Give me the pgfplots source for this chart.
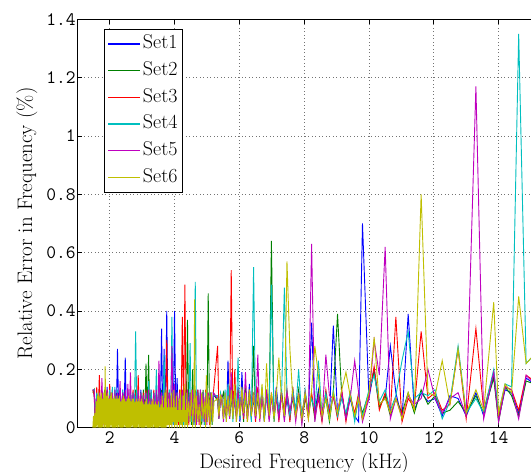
\documentclass[border=0pt]{standalone}
\usepackage{fontspec}
\usepackage{pgfplots}
\usepackage{pgfplotstable}
\pgfplotsset{compat=1.18}
\definecolor{mb}{rgb}{0,0,1}
\definecolor{mg}{rgb}{0,0.5,0}
\definecolor{mr}{rgb}{1,0,0}
\definecolor{mc}{rgb}{0,0.75,0.75}
\definecolor{mm}{rgb}{0.75,0,0.75}
\definecolor{my}{rgb}{0.75,0.75,0}
\pgfplotstableread{
x s1 s2 s3 s4 s5
1.48 .13 .12 .13 .13 .13
1.52 .12 .13 .11 .13 .13
1.56 .02 .03 .01 .03 .02
1.60 .11 .12 .14 .12 .10
1.64 .03 .01 .02 .02 .04
1.68 .13 .12 .18 .11 .12
1.72 .01 .02 .04 .01 .02
1.76 .12 .11 .12 .13 .17
1.80 .04 .02 .03 .03 .01
1.84 .11 .13 .10 .12 .12
1.88 .02 .03 .01 .03 .02
1.92 .14 .12 .13 .10 .13
1.96 .03 .01 .02 .02 .04
2.00 .12 .11 .15 .13 .11
2.04 .01 .02 .04 .01 .02
2.08 .10 .13 .12 .14 .12
2.12 .04 .02 .03 .03 .01
2.16 .13 .12 .11 .14 .13
2.20 .02 .03 .01 .03 .02
2.24 .27 .11 .12 .13 .12
2.28 .03 .01 .02 .02 .04
2.32 .12 .13 .13 .12 .16
2.36 .01 .02 .04 .01 .02
2.40 .13 .12 .11 .13 .12
2.44 .04 .02 .03 .03 .01
2.48 .24 .11 .12 .11 .13
2.52 .02 .03 .01 .03 .02
2.56 .11 .13 .12 .12 .15
2.60 .03 .01 .02 .02 .04
2.64 .12 .12 .11 .13 .19
2.68 .01 .02 .04 .01 .02
2.72 .11 .11 .13 .12 .12
2.76 .04 .02 .03 .03 .01
2.80 .12 .13 .12 .33 .11
2.84 .02 .03 .01 .03 .02
2.88 .11 .12 .18 .12 .13
2.92 .03 .01 .02 .02 .04
2.96 .13 .12 .11 .12 .12
3.00 .01 .02 .04 .01 .02
3.04 .12 .13 .12 .11 .11
3.08 .04 .02 .03 .03 .01
3.12 .11 .22 .13 .12 .12
3.16 .02 .03 .01 .03 .02
3.20 .12 .25 .11 .16 .13
3.24 .03 .01 .02 .02 .04
3.28 .13 .12 .12 .13 .10
3.32 .01 .02 .04 .01 .02
3.36 .11 .12 .13 .12 .12
3.40 .04 .02 .03 .03 .01
3.44 .12 .11 .12 .20 .13
3.48 .02 .03 .01 .03 .02
3.52 .13 .12 .12 .12 .23
3.56 .03 .01 .02 .02 .04
3.60 .34 .13 .11 .12 .12
3.64 .01 .02 .04 .01 .02
3.68 .27 .12 .13 .25 .12
3.72 .04 .02 .03 .03 .01
3.76 .40 .11 .30 .12 .13
3.80 .02 .03 .01 .03 .02
3.84 .12 .13 .12 .13 .12
3.88 .03 .01 .02 .02 .04
3.92 .13 .12 .11 .38 .28
3.96 .01 .02 .04 .01 .02
4.00 .40 .12 .12 .13 .15
4.04 .04 .02 .03 .03 .01
4.08 .17 .11 .12 .12 .12
4.12 .02 .03 .01 .03 .02
4.16 .12 .13 .13 .11 .12
4.20 .03 .01 .02 .02 .04
4.24 .11 .12 .38 .12 .13
4.28 .01 .02 .04 .01 .02
4.32 .12 .13 .49 .12 .12
4.36 .04 .02 .03 .03 .01
4.40 .13 .37 .12 .11 .13
4.44 .02 .03 .01 .03 .02
4.48 .12 .12 .11 .29 .12
4.52 .03 .01 .02 .02 .04
4.56 .11 .20 .12 .12 .13
4.60 .01 .02 .04 .01 .02
4.64 .12 .13 .12 .50 .12
4.68 .04 .02 .03 .03 .01
4.72 .13 .12 .13 .12 .12
4.76 .02 .03 .01 .03 .02
4.80 .11 .12 .12 .13 .13
4.84 .03 .01 .02 .02 .04
4.88 .12 .13 .11 .12 .12
4.92 .01 .02 .04 .01 .02
4.96 .12 .12 .13 .12 .11
5.00 .04 .02 .03 .03 .01
5.04 .11 .46 .12 .11 .12
5.08 .02 .03 .01 .03 .02
5.12 .12 .12 .11 .12 .12
5.16 .03 .01 .02 .02 .04
5.20 .11 .12 .12 .11 .12
5.33 .10 .09 .28 .11 .10
5.37 .04 .03 .05 .06 .03
5.42 .11 .10 .10 .12 .10
5.46 .09 .10 .09 .10 .11
5.51 .03 .12 .04 .05 .02
5.56 .12 .05 .11 .13 .10
5.60 .02 .04 .03 .03 .05
5.65 .23 .13 .12 .15 .10
5.70 .05 .03 .04 .06 .03
5.75 .12 .10 .54 .14 .19
5.80 .04 .06 .03 .02 .05
5.86 .10 .12 .20 .11 .09
5.91 .03 .04 .02 .06 .04
5.96 .14 .11 .13 .24 .12
6.02 .02 .05 .04 .03 .06
6.08 .19 .12 .10 .13 .11
6.13 .06 .02 .03 .05 .04
6.19 .12 .14 .11 .10 .19
6.25 .03 .05 .02 .04 .03
6.31 .15 .11 .13 .12 .10
6.37 .04 .03 .06 .02 .05
6.44 .10 .28 .12 .55 .12
6.50 .03 .04 .02 .05 .03
6.57 .11 .10 .14 .12 .25
6.63 .05 .06 .03 .04 .02
6.70 .13 .12 .10 .14 .11
6.77 .02 .03 .05 .03 .04
6.84 .12 .13 .11 .10 .13
6.92 .04 .05 .03 .06 .02
6.99 .11 .64 .12 .49 .10
7.07 .03 .02 .04 .03 .05
7.14 .14 .11 .13 .12 .10
7.22 .05 .04 .02 .06 .03
7.30 .12 .13 .11 .10 .12
7.39 .04 .03 .05 .48 .02
7.47 .10 .12 .13 .11 .12
7.56 .03 .05 .02 .04 .06
7.65 .12 .10 .14 .13 .11
7.74 .05 .04 .03 .06 .02
7.83 .11 .13 .10 .20 .12
7.93 .03 .02 .05 .03 .01
8.03 .12 .10 .11 .13 .12
8.13 .04 .06 .03 .05 .04
8.23 .36 .11 .12 .10 .63
8.33 .05 .03 .04 .06 .02
8.44 .13 .12 .10 .23 .11
8.55 .03 .05 .02 .04 .03
8.67 .11 .10 .13 .12 .25
8.78 .04 .02 .05 .03 .11
8.90 .35 .12 .11 .13 .10
9.03 .05 .39 .03 .04 .06
9.16 .12 .11 .13 .10 .12
9.29 .03 .04 .02 .05 .03
9.42 .10 .12 .11 .12 .10
9.56 .04 .03 .05 .02 .23
9.68 .02 .10 .12 .11 .12
9.80 .70 .05 .03 .04 .02
10.00 .10 .12 .11 .13 .10
10.16 .20 .19 .21 .18 .30
10.32 .08 .07 .06 .09 .18
10.50 .10 .11 .12 .13 .62
10.66 .28 .04 .05 .06 .03
10.83 .12 .10 .38 .11 .10
11.02 .03 .05 .02 .23 .04
11.21 .39 .12 .10 .33 .11
11.40 .06 .05 .07 .10 .08
11.61 .12 .13 .33 .12 .10
11.82 .09 .08 .10 .11 .20
12.04 .10 .11 .12 .13 .10
12.26 .04 .05 .06 .03 .05
12.50 .11 .06 .08 .09 .10
12.75 .10 .09 .27 .28 .12
13.00 .04 .05 .03 .05 .04
13.30 .12 .11 .34 .10 1.17
13.54 .04 .05 .06 .05 .03
13.85 .18 .17 .19 .20 .19
14.00 .03 .02 .04 .05 .02
14.20 .13 .14 .14 .15 .14
14.40 .12 .11 .13 .14 .13
14.62 .05 .04 .06 1.35 .03
14.85 .17 .16 .18 .22 .18
15.10 .15 .15 .16 .25 .15
}\data
\begin{document}
\begin{tikzpicture}
\begin{axis}[name=ax, scale only axis, width=453.7pt, height=408.4pt,
  xmin=1, xmax=15, ymin=0, ymax=1.4,
  axis x line*=box, axis y line*=left,
  xtick={2,4,6,8,10,12,14}, ytick={0,0.2,0.4,0.6,0.8,1,1.2,1.4},
  grid=major, major grid style={dash pattern=on 0.9pt off 2.6pt, black!55, line width=0.6pt},
  tick align=inside, major tick length=5pt, tick style={black, line width=0.6pt},
  axis line style={black, line width=1pt},
  tick label style={font=\fontsize{19}{19}\selectfont\ttfamily},
  /pgf/number format/assume math mode=true,
  yticklabel style={xshift=2pt},
  label style={font=\fontsize{21}{25}\selectfont},
  xlabel={Desired Frequency (kHz)},
  xlabel style={at={(axis description cs:0.5,0)}, anchor=base, yshift=-40.6pt},
  ylabel={Relative Error in Frequency (\%)},
  ylabel style={at={(axis description cs:-0.0998,0.5)}, anchor=base},
  legend style={at={(axis description cs:0.0595,0.9755)}, anchor=north west,
    draw=black, line width=0.8pt, fill=white, font=\fontsize{20}{24}\selectfont,
    inner sep=3pt, row sep=3.7pt,
    nodes={inner sep=2pt, text height=14pt, text depth=5pt}},
  legend cell align=left,
  legend image code/.code={\draw[#1, line width=1.3pt] (0pt,0.3pt) -- (32pt,0.3pt);},
]
\addplot[mb, line width=0.9pt] table[x=x, y=s1]{\data};
\addlegendentry{Set1}
\addplot[mg, line width=0.9pt] table[x=x, y=s2]{\data};
\addlegendentry{Set2}
\addplot[mr, line width=0.9pt] table[x=x, y=s3]{\data};
\addlegendentry{Set3}
\addplot[mc, line width=0.9pt] table[x=x, y=s4]{\data};
\addlegendentry{Set4}
\addplot[mm, line width=0.9pt] table[x=x, y=s5]{\data};
\addlegendentry{Set5}
\addplot[my, line width=0.9pt] coordinates {
(1.48,0)(1.50,.04)(1.52,0)(1.54,.05)(1.56,0)(1.58,.09)(1.60,0)(1.62,.11)
(1.64,0)(1.66,.12)(1.68,0)(1.70,.11)(1.72,0)(1.74,.12)(1.76,0)(1.78,.10)
(1.80,0)(1.82,.12)(1.84,0)(1.86,.21)(1.88,0)(1.90,.11)(1.92,0)(1.94,.12)
(1.96,0)(1.98,.10)(2.00,0)(2.02,.11)(2.04,0)(2.06,.12)(2.08,0)(2.10,.10)
(2.12,0)(2.14,.11)(2.16,0)(2.18,.10)(2.20,0)(2.22,.11)(2.24,0)(2.26,.10)
(2.28,0)(2.30,.11)(2.32,0)(2.34,.09)(2.36,0)(2.38,.10)(2.40,0)(2.42,.11)
(2.44,0)(2.46,.10)(2.48,0)(2.50,.09)(2.52,0)(2.54,.10)(2.56,0)(2.58,.11)
(2.60,0)(2.62,.10)(2.64,0)(2.66,.09)(2.68,0)(2.70,.10)(2.72,0)(2.74,.10)
(2.76,0)(2.78,.09)(2.80,0)(2.82,.10)(2.84,0)(2.86,.09)(2.88,0)(2.90,.10)
(2.92,0)(2.94,.09)(2.96,0)(2.98,.10)(3.00,0)(3.02,.09)(3.04,0)(3.06,.08)
(3.08,0)(3.10,.09)(3.12,0)(3.14,.10)(3.16,0)(3.18,.08)(3.20,0)(3.22,.09)
(3.24,0)(3.26,.08)(3.28,0)(3.30,.09)(3.32,0)(3.34,.10)(3.36,0)(3.38,.08)
(3.40,0)(3.42,.09)(3.44,0)(3.46,.08)(3.48,0)(3.50,.09)(3.52,0)(3.54,.07)
(3.56,0)(3.58,.08)(3.60,0)(3.62,.11)(3.64,0)(3.66,.07)(3.68,0)(3.70,.12)
(3.72,0)(3.74,.13)(3.76,0)(3.78,.07)(3.80,.01)(3.82,.10)(3.84,0)(3.86,.07)
(3.88,.01)(3.90,.12)(3.92,0)(3.94,.07)(3.96,.02)(3.98,.13)(4.00,0)(4.02,.07)
(4.04,.01)(4.06,.11)(4.08,0)(4.10,.06)(4.12,.02)(4.14,.10)(4.16,0)(4.18,.13)
(4.20,.01)(4.22,.06)(4.24,0)(4.26,.11)(4.28,.02)(4.30,.15)(4.32,0)(4.34,.06)
(4.36,.01)(4.38,.12)(4.40,0)(4.44,.09)(4.48,.02)(4.52,.13)(4.56,0)
(4.60,.10)(4.62,.44)(4.64,0)(4.68,.11)(4.72,.02)(4.76,.08)(4.80,0)(4.84,.12)
(4.88,.03)(4.92,.09)(4.96,0)(4.98,.18)(5.02,.02)(5.06,.11)(5.10,0)(5.14,.12)
(5.18,.02)(5.22,.09)
(5.33,.10)(5.37,.04)(5.42,.11)(5.46,.10)(5.51,.03)(5.56,.12)(5.60,.02)(5.65,.11)
(5.70,.04)(5.75,.13)(5.80,.03)(5.86,.15)(5.91,.02)(5.96,.10)(6.02,.04)(6.08,.14)
(6.13,.05)(6.19,.12)(6.25,.02)(6.31,.13)(6.37,.04)(6.44,.11)(6.50,.04)(6.57,.12)
(6.63,.03)(6.70,.15)(6.77,.02)(6.84,.22)(6.92,.04)(6.99,.12)(7.07,.03)(7.14,.11)
(7.22,.24)(7.30,.10)(7.39,.04)(7.47,.57)(7.56,.27)(7.65,.10)(7.74,.04)(7.83,.11)
(7.93,.03)(8.03,.12)(8.13,.03)(8.23,.13)(8.33,.28)(8.44,.18)(8.55,.04)(8.67,.10)
(8.78,.03)(8.90,.12)(9.03,.05)(9.16,.13)(9.29,.19)(9.42,.11)(9.56,.04)(9.68,.10)
(9.80,.03)(10.00,.12)(10.16,.31)(10.32,.08)(10.50,.10)(10.66,.05)(10.83,.10)(11.02,.03)
(11.21,.12)(11.40,.06)(11.61,.80)(11.82,.12)(12.04,.11)(12.26,.23)(12.50,.08)(12.75,.27)
(13.00,.05)(13.30,.13)(13.54,.06)(13.85,.43)(14.00,.05)(14.20,.15)(14.40,.12)(14.62,.45)
(14.85,.22)(15.10,.25)
};
\addlegendentry{Set6}
\end{axis}
\pgfresetboundingbox
\path[use as bounding box] ([xshift=-77.3pt,yshift=-44.3pt]ax.south west) rectangle ([yshift=19.3pt]ax.north east);
\end{tikzpicture}
\end{document}
